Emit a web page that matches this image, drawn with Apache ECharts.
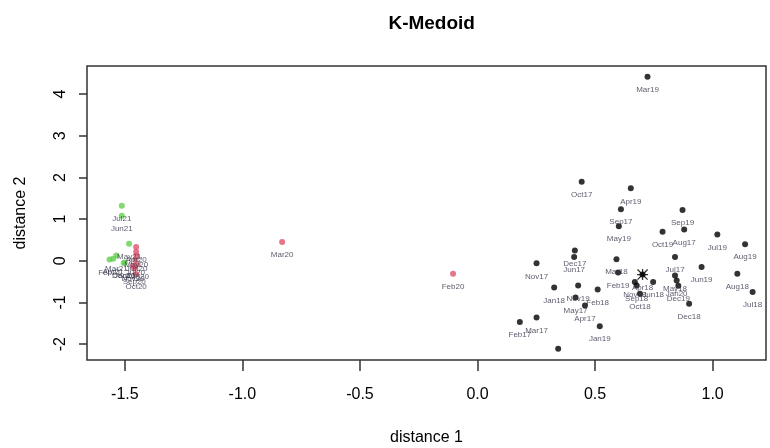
<!DOCTYPE html>
<html>
<head>
<meta charset="utf-8">
<script src="https://cdn.jsdelivr.net/npm/echarts@6/dist/echarts.min.js"></script>
<style>
html,body{margin:0;padding:0;background:#fff;}
#chart{width:770px;height:448px;}
</style>
</head>
<body>
<div id="chart"></div>
<script>
// Cluster 1 (black)
var c1Names = ["Mar19","Oct17","Apr19","Sep17","May19","Sep19","Aug17","Oct19","Jul19","Aug19","Dec17","Jun17","Nov17","Mar18","Jul17","Jun19","Aug18","Feb19","Apr18","Nov18","Jun18","Sep18","Oct18","May18","Jan20","Dec19","Dec18","Jul18","Jan18","Nov19","Feb18","May17","Apr17","Jan19","Mar17","Feb17","Jan17"];
var c1X = [0.723,0.443,0.652,0.610,0.601,0.872,0.879,0.787,1.020,1.138,0.414,0.411,0.251,0.591,0.840,0.953,1.105,0.598,0.702,0.669,0.747,0.677,0.691,0.840,0.847,0.854,0.900,1.170,0.326,0.428,0.511,0.417,0.457,0.520,0.251,0.180,0.343];
var c1Y = [4.42,1.90,1.74,1.24,0.83,1.22,0.75,0.70,0.63,0.40,0.25,0.09,-0.06,0.04,0.09,-0.15,-0.31,-0.28,-0.33,-0.51,-0.51,-0.59,-0.79,-0.35,-0.47,-0.60,-1.03,-0.75,-0.64,-0.59,-0.69,-0.88,-1.07,-1.57,-1.36,-1.47,-2.11];

// Cluster 2 (red)
var c2Names = ["Mar20","Feb20","Apr20","May20","Jun20","Jul20","Aug20","Sep20","Oct20","Nov20"];
var c2X = [-0.831,-0.104,-1.452,-1.452,-1.450,-1.455,-1.447,-1.460,-1.452,-1.465];
var c2Y = [0.45,-0.31,0.33,0.22,0.12,0.02,-0.08,-0.18,-0.32,-0.12];

// Cluster 3 (green)
var c3Names = ["Jul21","Jun21","May21","Mar21","Apr21","Feb21","Jan21","Dec20"];
var c3X = [-1.513,-1.513,-1.482,-1.536,-1.550,-1.565,-1.500,-1.505];
var c3Y = [1.32,1.08,0.41,0.13,0.05,0.03,-0.04,-0.05];

// Medoid marker
var medoidNames = ["Apr18"];
var medoidX = [0.702];
var medoidY = [-0.33];

// Ticks
var xTicks = [-1.5,-1.0,-0.5,0.0,0.5,1.0];
var yTicks = [-2,-1,0,1,2,3,4];
var hiddenLabels = ["Jan17"];

var FONT = "Liberation Sans, Arial, Helvetica, sans-serif";

function pts(names, xs, ys) {
  return names.map(function (n, i) {
    var d = { name: n, value: [xs[i], ys[i]] };
    if (hiddenLabels.indexOf(n) >= 0) d.label = { show: false };
    return d;
  });
}

var asterisk = 'path://M4.4 0 L5.6 0 L5.6 10 L4.4 10 Z M0 4.4 L10 4.4 L10 5.6 L0 5.6 Z M0.85 0 L10 9.15 L9.15 10 L0 0.85 Z M9.15 0 L10 0.85 L0.85 10 L0 9.15 Z';

var ptLabel = {
  show: true,
  position: 'bottom',
  distance: 6,
  formatter: '{b}',
  fontSize: 8,
  fontFamily: FONT,
  color: '#33334a'
};

var chart = echarts.init(document.getElementById('chart'));
chart.setOption({
  animation: false,
  backgroundColor: '#fff',
  title: {
    text: 'K-Medoid',
    left: 426.7,
    textAlign: 'center',
    top: 9,
    textStyle: { fontSize: 19, fontWeight: 'bold', color: '#000', fontFamily: FONT }
  },
  grid: {
    left: 87, right: 4, top: 66, bottom: 88,
    outerBoundsMode: 'none',
    containLabel: false,
    show: true, borderColor: '#333', borderWidth: 1.5, backgroundColor: 'transparent'
  },
  xAxis: {
    type: 'value',
    min: -1.661, max: 1.227,
    name: 'distance 1',
    nameLocation: 'middle',
    nameGap: 70,
    nameTextStyle: { fontSize: 16, color: '#000', fontFamily: FONT },
    axisLine: { show: false, onZero: false },
    splitLine: { show: false },
    axisTick: { show: true, customValues: xTicks, length: 11, lineStyle: { color: '#333', width: 1.5 } },
    axisLabel: {
      customValues: xTicks,
      formatter: function (v) { return v.toFixed(1); },
      fontSize: 16, color: '#000', fontFamily: FONT, margin: 27
    }
  },
  yAxis: {
    type: 'value',
    min: -2.38, max: 4.675,
    name: 'distance 2',
    nameLocation: 'middle',
    nameGap: 58,
    nameRotate: 90,
    nameTextStyle: { fontSize: 16, color: '#000', fontFamily: FONT },
    axisLine: { show: false, onZero: false },
    splitLine: { show: false },
    axisTick: { show: true, customValues: yTicks, length: 8, lineStyle: { color: '#333', width: 1.5 } },
    axisLabel: {
      customValues: yTicks,
      rotate: 90,
      formatter: function (v) { return String(v); },
      fontSize: 16, color: '#000', fontFamily: FONT, margin: 18
    }
  },
  series: [
    {
      type: 'scatter', name: 'cluster1',
      data: pts(c1Names, c1X, c1Y),
      symbol: 'circle', symbolSize: 6,
      itemStyle: { color: '#000' },
      label: ptLabel
    },
    {
      type: 'scatter', name: 'cluster2',
      data: pts(c2Names, c2X, c2Y),
      symbol: 'circle', symbolSize: 6,
      itemStyle: { color: '#DF536B' },
      label: ptLabel
    },
    {
      type: 'scatter', name: 'cluster3',
      data: pts(c3Names, c3X, c3Y),
      symbol: 'circle', symbolSize: 6,
      itemStyle: { color: '#61D04F' },
      label: ptLabel
    },
    {
      type: 'scatter', name: 'medoid',
      data: pts(medoidNames, medoidX, medoidY),
      symbol: asterisk, symbolSize: 11,
      itemStyle: { color: '#000' },
      label: { show: false }
    }
  ]
});
</script>
</body>
</html>
